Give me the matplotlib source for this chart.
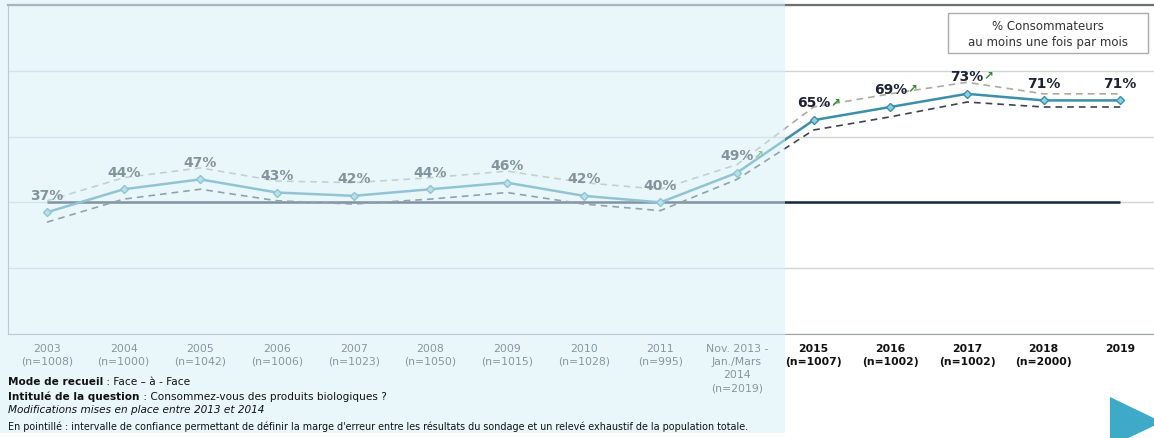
import matplotlib.pyplot as plt
from matplotlib.patches import Rectangle, Polygon
from matplotlib.text import Annotation

plt.rcParams['font.family'] = ['DejaVu Sans']

# données
annees = ['2003', '2004', '2005', '2006', '2007', '2008', '2009', '2010', '2011',
          'Nov. 2013 -\nJan./Mars\n2014', '2015', '2016', '2017', '2018', '2019']
effectifs = ['1008', '1000', '1042', '1006', '1023', '1050', '1015', '1028', '995',
             '2019', '1007', '1002', '1002', '2000', '']
valeurs = [37, 44, 47, 43, 42, 44, 46, 42, 40, 49, 65, 69, 73, 71, 71]
borne_haute = [40.5, 47.5, 50.5, 46.5, 46, 47.5, 49.5, 46, 44, 51.5, 69, 73, 76.5, 73, 73]
borne_basse = [34, 41, 44, 40.5, 39.5, 41, 43, 39.5, 37.5, 47, 62, 66, 70.5, 69, 69]
hausse = [False, False, False, False, False, False, False, False, False,
          True, True, True, True, False, False]
reference = 40
n_anciens = 10  # points avant 2015 (zone voilée)

fig = plt.figure(figsize=(11.54, 4.38), dpi=100)
ax = fig.add_axes([8/1154, 1-334/438, 1-8/1154, 329/438])

x = list(range(len(valeurs)))
ax.set_xlim(-0.509, 14.44)
ax.set_ylim(0, 100)

# grille horizontale
ax.set_yticks([0, 20, 40, 60, 80, 100])
ax.yaxis.grid(True, color='#cfd4d6', lw=1)
ax.set_axisbelow(True)
ax.tick_params(axis='y', length=0, labelleft=False)

ax.hlines(reference, x[0], x[-1], color='#1b2340', lw=1.8, zorder=2)

ax.plot(x, borne_haute, color='#b0aa9e', lw=1.2, ls=(0, (4, 3)), zorder=3)
ax.plot(x, borne_basse, color='#3d4352', lw=1.2, ls=(0, (4, 3)), zorder=3)
ax.plot(x, valeurs, color='#3a8fab', lw=1.8, marker='D', ms=4.5,
        mfc='#8fd0e0', mec='#3a8fab', mew=1, zorder=4)

for i, v in enumerate(valeurs):
    ax.annotate(f'{v}%', (i, v), xytext=(0, 12), textcoords='offset points',
                ha='center', va='center', fontsize=10, fontweight='bold',
                color='#1c2333', zorder=5)
    if hausse[i]:
        ax.annotate('\u2197', (i, v), xytext=(12, 13), textcoords='offset points',
                    ha='left', va='center', fontsize=8.5, fontweight='bold',
                    color='#2e8b2e', zorder=5)

# étiquettes de l'axe x
etiquettes = []
for a, n in zip(annees, effectifs):
    etiquettes.append(a + ('\n(n=' + n + ')' if n else ''))
ax.set_xticks(x)
ax.set_xticklabels(etiquettes, fontsize=7.8, linespacing=1.4)
ax.tick_params(axis='x', length=0, pad=7)
for i, t in enumerate(ax.get_xticklabels()):
    if i < n_anciens:
        t.set_color('#222a34')
    else:
        t.set_color('#111111')
        t.set_fontweight('bold')

for s in ['left', 'bottom']:
    ax.spines[s].set_color('#9aa0a4')
ax.spines['top'].set_color('#6d6f72')
ax.spines['top'].set_linewidth(1.6)
ax.spines['right'].set_visible(False)

# encadré légende
fig.patches.append(Rectangle((948/1154, 1-53/438), 200/1154, 40/438,
                             transform=fig.transFigure, fc='white', ec='#aaaaaa',
                             lw=1, zorder=6))
fig.text(1048/1154, 1-34.5/438, '% Consommateurs\nau moins une fois par mois',
         ha='center', va='center', fontsize=8.5, color='#333333',
         linespacing=1.35, zorder=7)

# voile bleu sur la période avant 2015
fig.patches.append(Rectangle((0, 5/438), 785/1154, 1, transform=fig.transFigure,
                             fc='#d7f1f6', alpha=0.55, ec='none', zorder=10))

# triangle décoratif
fig.patches.append(Polygon([(1110/1154, 1-397/438), (1110/1154, -0.02), (1162/1154, 1-422/438)],
                           closed=True, transform=fig.transFigure, fc='#3fa9c9',
                           ec='none', zorder=11))

# notes de bas de page
def note(y, gras, suite, taille=7.6):
    t = fig.text(8/1154, 1-y/438, gras, fontsize=taille, fontweight='bold',
                 va='center', color='#111111', zorder=12)
    fig.add_artist(Annotation(suite, xy=(1, 0.5), xycoords=t, va='center',
                              fontsize=taille, color='#111111', zorder=12))

note(382, 'Mode de recueil', ' : Face \u2013 \u00e0 - Face')
note(397, 'Intitul\u00e9 de la question', ' : Consommez-vous des produits biologiques ?')
fig.text(8/1154, 1-410/438, 'Modifications mises en place entre 2013 et 2014',
         fontsize=7.6, style='italic', va='center', color='#111111', zorder=12)
fig.text(8/1154, 1-427/438,
         "En pointill\u00e9 : intervalle de confiance permettant de d\u00e9finir la marge "
         "d'erreur entre les r\u00e9sultats du sondage et un relev\u00e9 exhaustif de la "
         "population totale.", fontsize=6.9, va='center', color='#111111', zorder=12)

fig.savefig('out.png', dpi=100)
